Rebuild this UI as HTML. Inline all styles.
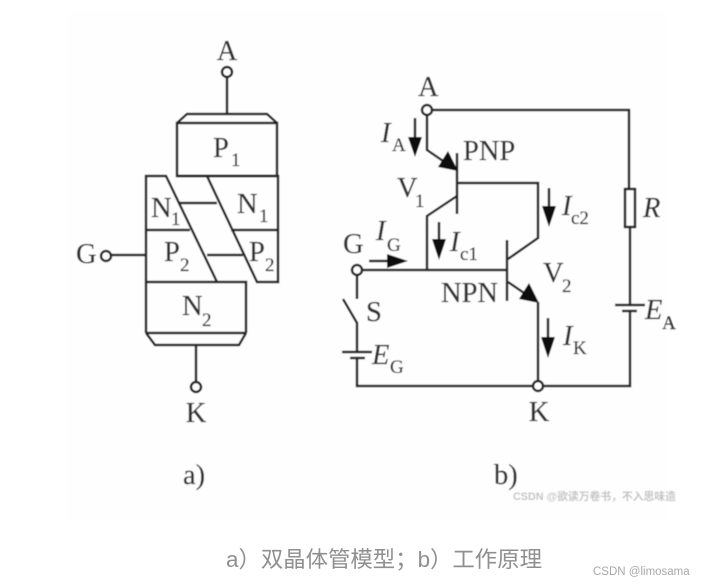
<!DOCTYPE html>
<html><head><meta charset="utf-8">
<style>
html,body{margin:0;padding:0;background:#fff;width:707px;height:583px;overflow:hidden}
svg{display:block}
.s{font-family:"Liberation Serif",serif;font-size:28.5px;fill:#333;stroke:#333;stroke-width:.25}
.b{font-size:19px}
.i{font-style:italic}
.l{fill:none;stroke:#222;stroke-width:2.5}
.h{fill:#111;stroke:none}
</style></head><body>
<svg width="707" height="583" viewBox="0 0 707 583" xmlns="http://www.w3.org/2000/svg">
<defs><filter id="bl" x="0" y="0" width="100%" height="100%"><feGaussianBlur stdDeviation="0.4"/></filter></defs>
<rect x="66" y="10" width="600" height="510" fill="#fefefe"/>
<g filter="url(#bl)">
<rect x="66" y="10" width="600" height="510" fill="#fefefe"/>
<g class="l">
<!-- left diagram -->
<circle cx="227" cy="72" r="5"/>
<path d="M227 77V114"/>
<path d="M177 123L187 114H267L277 123"/>
<rect x="177" y="123" width="100" height="53"/>
<path d="M146 333V176H166L217 282"/>
<path d="M177 176H278V282H257L207 176"/>
<path d="M146 230H190M231 230H278"/>
<path d="M180 203H217M207 255H243"/>
<path d="M146 282H246V333"/>
<path d="M146 333L155 345H239L246 333"/>
<path d="M146 333H246" stroke-width="2.5"/>
<path d="M196 345V382"/>
<circle cx="196" cy="387" r="5"/>
<circle cx="106" cy="256" r="5"/>
<path d="M111 255H146"/>
<!-- right diagram -->
<circle cx="427" cy="110" r="5"/>
<path d="M432 110H629V189"/>
<rect x="625" y="189" width="10" height="38"/>
<path d="M630 227V305M615 305H645M622 311H637M630 311V386H543"/>
<path d="M534 386H357V358M342 352H372M350 358H365M357 352V323L343 299M357 299V275"/>
<circle cx="357" cy="270" r="5"/>
<circle cx="538" cy="386" r="5"/>
<path d="M427 115V150L446 163"/>
<path d="M457 153V214"/>
<path d="M457 183H538V238L508 259"/>
<path d="M507 240V301"/>
<path d="M362 270H507"/>
<path d="M427 270V216L457 196"/>
<path d="M508 282L527 295M538 302V381"/>
<path d="M415 118V140M549 188V208M439 222V242M548 318V340M369 261H388"/>
</g>
<path class="h" d="M458 171L438 167L448 151Z"/>
<path class="h" d="M539 303L519 299L529 283Z"/>
<path class="h" d="M408 137H422L415 157Z"/>
<path class="h" d="M542 206H556L549 227Z"/>
<path class="h" d="M432 239H446L439 260Z"/>
<path class="h" d="M541 337H555L548 358Z"/>
<path class="h" d="M387 254V268L408 261Z"/>
<g class="s">
<text x="227" y="60" text-anchor="middle">A</text>
<text x="213" y="157">P</text><text class="b" x="231" y="166">1</text>
<text x="151" y="217">N</text><text class="b" x="171" y="225">1</text>
<text x="237" y="213">N</text><text class="b" x="259" y="222">1</text>
<text x="164" y="261">P</text><text class="b" x="180" y="271">2</text>
<text x="249" y="261">P</text><text class="b" x="265" y="271">2</text>
<text x="182" y="315">N</text><text class="b" x="202" y="326">2</text>
<text x="76" y="263">G</text>
<text x="196" y="422" text-anchor="middle">K</text>
<text x="183" y="484">a)</text>
<text x="418" y="96">A</text>
<text class="i" x="381" y="142">I</text><text class="b" x="392" y="151">A</text>
<text x="463" y="160">PNP</text>
<text x="397" y="197">V</text><text class="b" x="415" y="207">1</text>
<text class="i" x="562" y="215">I</text><text class="b" x="571" y="224">c2</text>
<text class="i" x="643" y="217">R</text>
<text x="343" y="253">G</text>
<text class="i" x="376" y="240">I</text><text class="b" x="387" y="251">G</text>
<text class="i" x="450" y="251">I</text><text class="b" x="460" y="260">c1</text>
<text x="543" y="282">V</text><text class="b" x="562" y="292">2</text>
<text x="441" y="302">NPN</text>
<text x="366" y="321">S</text>
<text class="i" x="372" y="364">E</text><text class="b" x="390" y="373">G</text>
<text class="i" x="645" y="319">E</text><text class="b" x="662" y="329">A</text>
<text class="i" x="563" y="345">I</text><text class="b" x="573" y="354">K</text>
<text x="539" y="421" text-anchor="middle">K</text>
<text x="494" y="484">b)</text>
</g>
<text x="513" y="500" font-family="'Liberation Sans','Noto Sans CJK SC',sans-serif" font-size="10.8" font-weight="bold" fill="#c4c4c4">CSDN @欲读万卷书，不入思味造</text>
</g>
<text x="226" y="567" font-family="'Liberation Sans','Noto Sans CJK SC',sans-serif" font-size="22.4" fill="#8f8f8f">a）双晶体管模型；b）工作原理</text>
<text x="593" y="575" font-family="'Liberation Sans','Noto Sans CJK SC',sans-serif" font-size="11.5" fill="#a8a8a8">CSDN @limosama</text>
</svg>
</body></html>
